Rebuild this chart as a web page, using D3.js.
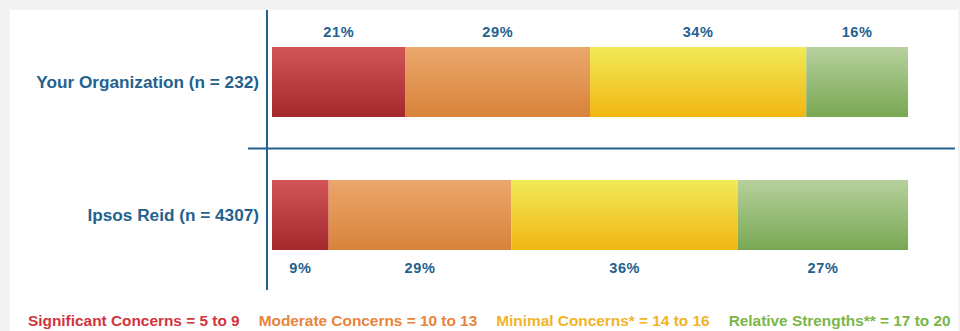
<!DOCTYPE html>
<html>
<head>
<meta charset="utf-8">
<script src="https://cdn.jsdelivr.net/npm/d3@7"></script>
<style>
  body { margin: 0; background: #f3f3f3; }
  svg { display: block; font-family: "Liberation Sans", Arial, sans-serif; font-weight: bold; }
</style>
</head>
<body>
<div id="chart"></div>
<script>
let categories = ["Your Organization (n = 232)", "Ipsos Reid (n = 4307)"];
let seriesNames = ["significant", "moderate", "minimal", "strengths"];
let significant = [21, 9];
let moderate = [29, 29];
let minimal = [34, 36];
let strengths = [16, 27];
let legendLabels = ["Significant Concerns = 5 to 9", "Moderate Concerns = 10 to 13",
    "Minimal Concerns* = 14 to 16", "Relative Strengths** = 17 to 20"];

let width = 960, height = 331;
let blue = "#23618f";
let fills = [["#d25457", "#a3292c"], ["#eba76c", "#d8833a"], ["#f0ea57", "#f2b612"], ["#b7d09d", "#78a853"]];
let legendColors = ["#d2343c", "#e8843c", "#f2b427", "#7ab648"];

let rows = categories.map(function (c, i) {
    return {cat: c, significant: significant[i], moderate: moderate[i], minimal: minimal[i], strengths: strengths[i]};
});

let svg = d3.select("#chart")
    .append("svg")
    .attr("width", width)
    .attr("height", height);

let defs = svg.append("defs");
fills.forEach(function (f, i) {
    let g = defs.append("linearGradient")
        .attr("id", "grad" + i)
        .attr("x1", 0).attr("y1", 0).attr("x2", 0).attr("y2", 1);
    g.append("stop").attr("offset", "0%").attr("stop-color", f[0]);
    g.append("stop").attr("offset", "100%").attr("stop-color", f[1]);
});

// white card
svg.append("rect")
    .attr("x", 10).attr("y", 10)
    .attr("width", 948).attr("height", height - 10)
    .attr("fill", "#fff");

let x = d3.scaleLinear()
    .domain([0, 1])
    .range([272, 908]);

let y = d3.scaleBand()
    .domain(categories)
    .range([13.75, 283.25])
    .paddingInner(0.4737)
    .paddingOuter(0.25);

let stacked = d3.stack()
    .keys(seriesNames)
    .offset(d3.stackOffsetExpand)(rows);

let layers = svg.selectAll("g.layer")
    .data(stacked)
    .enter()
    .append("g")
    .attr("class", "layer")
    .attr("fill", function (d, i) { return "url(#grad" + i + ")"; });

layers.selectAll("rect")
    .data(function (d) { return d; })
    .enter()
    .append("rect")
    .attr("x", function (d) { return x(d[0]); })
    .attr("y", function (d) { return y(d.data.cat); })
    .attr("width", function (d) { return x(d[1]) - x(d[0]); })
    .attr("height", y.bandwidth());

// percentage labels: above first bar, below second
layers.selectAll("text")
    .data(function (d) { return d.map(function (p) { return {p: p, key: d.key}; }); })
    .enter()
    .append("text")
    .attr("x", function (d) { return x((d.p[0] + d.p[1]) / 2); })
    .attr("y", function (d, i) {
        return i === 0 ? y(d.p.data.cat) - 10 : y(d.p.data.cat) + y.bandwidth() + 23;
    })
    .attr("text-anchor", "middle")
    .attr("fill", blue)
    .style("font-size", "14.5px")
    .style("letter-spacing", "0.6px")
    .text(function (d) { return d.p.data[d.key] + "%"; });

// row labels
svg.selectAll("text.cat")
    .data(categories)
    .enter()
    .append("text")
    .attr("class", "cat")
    .attr("x", 259)
    .attr("y", function (d) { return y(d) + y.bandwidth() / 2 + 6; })
    .attr("text-anchor", "end")
    .attr("fill", blue)
    .style("font-size", "17.2px")
    .text(function (d) { return d; });

// axis lines
svg.append("line")
    .attr("x1", 267).attr("x2", 267)
    .attr("y1", 10).attr("y2", 290)
    .attr("stroke", blue).attr("stroke-width", 2);

svg.append("line")
    .attr("x1", 248).attr("x2", 955)
    .attr("y1", (y(categories[0]) + y.bandwidth() + y(categories[1])) / 2)
    .attr("y2", (y(categories[0]) + y.bandwidth() + y(categories[1])) / 2)
    .attr("stroke", blue).attr("stroke-width", 2);

// legend
let legendX = 28;
legendLabels.forEach(function (t, i) {
    let txt = svg.append("text")
        .attr("x", legendX)
        .attr("y", 326)
        .attr("fill", legendColors[i])
        .style("font-size", "15.4px")
        .text(t);
    legendX += txt.node().getComputedTextLength() + 19;
});
</script>
</body>
</html>
